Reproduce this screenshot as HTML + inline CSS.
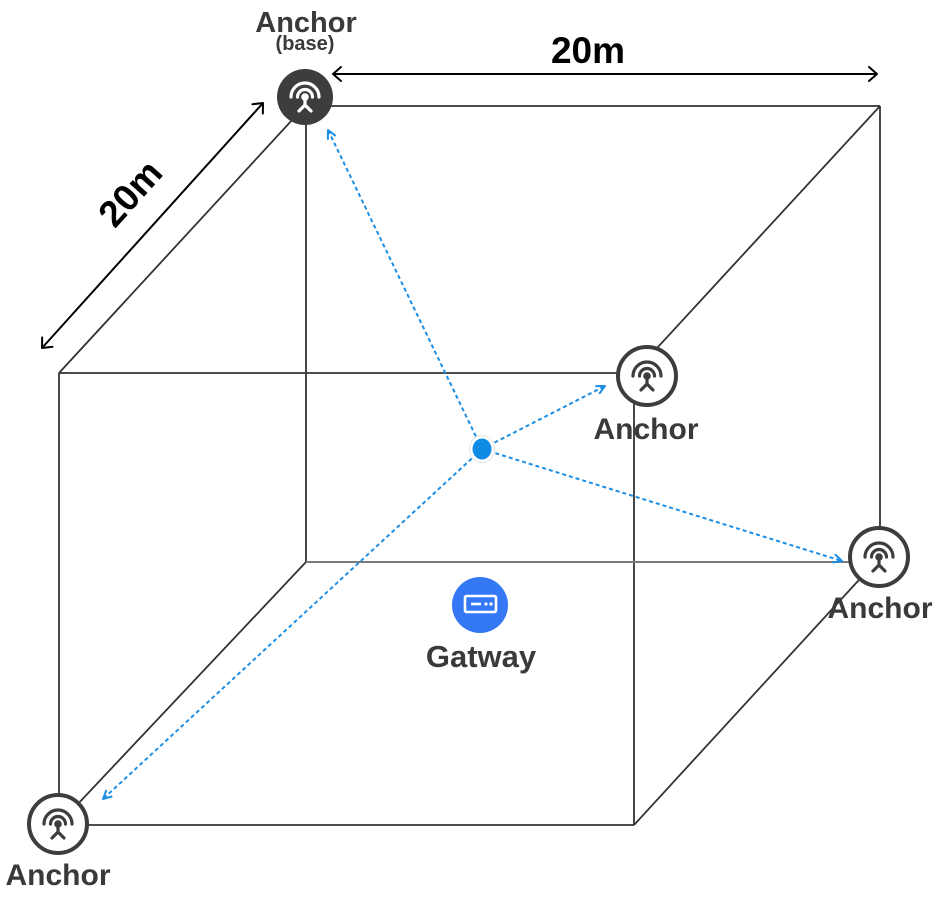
<!DOCTYPE html>
<html>
<head>
<meta charset="utf-8">
<style>
  html,body{margin:0;padding:0;background:#fff;}
  svg{display:block;}
  .lbl{font-family:"Liberation Sans",Arial,sans-serif;font-weight:bold;fill:#3a3a3a;}
</style>
</head>
<body>
<svg width="938" height="897" viewBox="0 0 938 897" xmlns="http://www.w3.org/2000/svg">
  <defs>
    <marker id="bh" viewBox="0 0 10 10" refX="9" refY="5" markerWidth="10" markerHeight="10" markerUnits="userSpaceOnUse" orient="auto-start-reverse">
      <path d="M1,1 L9,5 L1,9" fill="none" stroke="#1b8ee6" stroke-width="2" stroke-dasharray="none" stroke-linecap="round" stroke-linejoin="round"/>
    </marker>
    <marker id="kh" viewBox="0 0 10 16" refX="9" refY="8" markerWidth="10" markerHeight="16" markerUnits="userSpaceOnUse" orient="auto-start-reverse">
      <path d="M1,1 L9,8 L1,15" fill="none" stroke="#000" stroke-width="2" stroke-dasharray="none" stroke-linecap="round" stroke-linejoin="round"/>
    </marker>
    <g id="icon" fill="none" stroke-width="3.2" stroke-linecap="round" stroke-linejoin="round">
      <path d="M -14 0 A 14 14 0 0 1 14 0"/>
      <path d="M -7.5 0 A 7.5 7.5 0 0 1 7.5 0"/>
      <path d="M 0 0 L 0 8 M -6 14 L 0 8 L 6 14"/>
    </g>
  </defs>

  <!-- cube edges -->
  <g fill="none" stroke="#333" stroke-width="1.8">
    <line x1="305" y1="106" x2="880" y2="106"/>
    <line x1="306" y1="106" x2="306" y2="562"/>
    <line x1="880" y1="106" x2="880" y2="557"/>
    <line x1="59" y1="373" x2="634" y2="373"/>
    <line x1="59" y1="373" x2="59" y2="824"/>
    <line x1="634" y1="373" x2="634" y2="825"/>
    <line x1="59" y1="825" x2="634" y2="825"/>
    <line x1="59" y1="373" x2="305" y2="106"/>
    <line x1="634" y1="373" x2="880" y2="106"/>
    <line x1="634" y1="825" x2="880" y2="557"/>
    <line x1="59" y1="824" x2="306" y2="562"/>
  </g>
  <line x1="306" y1="562" x2="880" y2="562" stroke="#7a7a7a" stroke-width="2"/>

  <!-- dimension arrows -->
  <line x1="333" y1="74" x2="877" y2="74" stroke="#000" stroke-width="2" marker-start="url(#kh)" marker-end="url(#kh)"/>
  <line x1="42" y1="348" x2="263" y2="103" stroke="#000" stroke-width="2" marker-start="url(#kh)" marker-end="url(#kh)"/>
  <text x="588" y="63" text-anchor="middle" font-family="Liberation Sans, Arial, sans-serif" font-weight="bold" font-size="37" fill="#000">20m</text>
  <g transform="translate(130,193) rotate(-48)">
    <text x="0" y="13" text-anchor="middle" font-family="Liberation Sans, Arial, sans-serif" font-weight="bold" font-size="37" fill="#000">20m</text>
  </g>

  <!-- blue dashed ranging lines -->
  <g fill="none" stroke="#1b8ee6" stroke-width="2" stroke-dasharray="4 3">
    <line x1="482" y1="449" x2="328" y2="130" marker-end="url(#bh)"/>
    <line x1="482" y1="449" x2="605" y2="386" marker-end="url(#bh)"/>
    <line x1="482" y1="449" x2="842" y2="561" marker-end="url(#bh)"/>
    <line x1="482" y1="449" x2="103" y2="799" marker-end="url(#bh)"/>
  </g>

  <!-- tag dot -->
  <ellipse cx="482" cy="449" rx="12.5" ry="13.5" fill="#fff" stroke="#e6e6e6" stroke-width="1"/>
  <ellipse cx="482" cy="449" rx="9.5" ry="10.5" fill="#0f8be6"/>

  <!-- base anchor (filled) -->
  <circle cx="305" cy="97" r="28" fill="#3d3d3d"/>
  <use href="#icon" x="305" y="97" stroke="#fff"/>
  <circle cx="305" cy="97" r="3.8" fill="#fff"/>
  <text class="lbl" x="306" y="32" text-anchor="middle" font-size="29">Anchor</text>
  <text class="lbl" x="305" y="50" text-anchor="middle" font-size="20">(base)</text>

  <!-- middle anchor -->
  <circle cx="647" cy="376" r="29" fill="#fff" stroke="#3d3d3d" stroke-width="4"/>
  <use href="#icon" x="647" y="376" stroke="#3d3d3d"/>
  <circle cx="647" cy="376" r="3.8" fill="#3d3d3d"/>
  <text class="lbl" x="646" y="439" text-anchor="middle" font-size="30">Anchor</text>

  <!-- right anchor -->
  <circle cx="879" cy="557" r="29" fill="#fff" stroke="#3d3d3d" stroke-width="4"/>
  <use href="#icon" x="879" y="557" stroke="#3d3d3d"/>
  <circle cx="879" cy="557" r="3.8" fill="#3d3d3d"/>
  <text class="lbl" x="880" y="618" text-anchor="middle" font-size="30">Anchor</text>

  <!-- bottom-left anchor -->
  <circle cx="58" cy="824" r="29" fill="#fff" stroke="#3d3d3d" stroke-width="4"/>
  <use href="#icon" x="58" y="824" stroke="#3d3d3d"/>
  <circle cx="58" cy="824" r="3.8" fill="#3d3d3d"/>
  <text class="lbl" x="58" y="885" text-anchor="middle" font-size="30">Anchor</text>

  <!-- gateway -->
  <circle cx="480" cy="605" r="28" fill="#3478f6"/>
  <rect x="465" y="596" width="31" height="16" rx="1.5" fill="none" stroke="#fff" stroke-width="2.6"/>
  <line x1="471" y1="604" x2="481" y2="604" stroke="#fff" stroke-width="2.6"/>
  <circle cx="486" cy="604" r="1.6" fill="#fff"/>
  <circle cx="491" cy="604" r="1.6" fill="#fff"/>
  <text class="lbl" x="481" y="667" text-anchor="middle" font-size="31">Gatway</text>
</svg>
</body>
</html>
